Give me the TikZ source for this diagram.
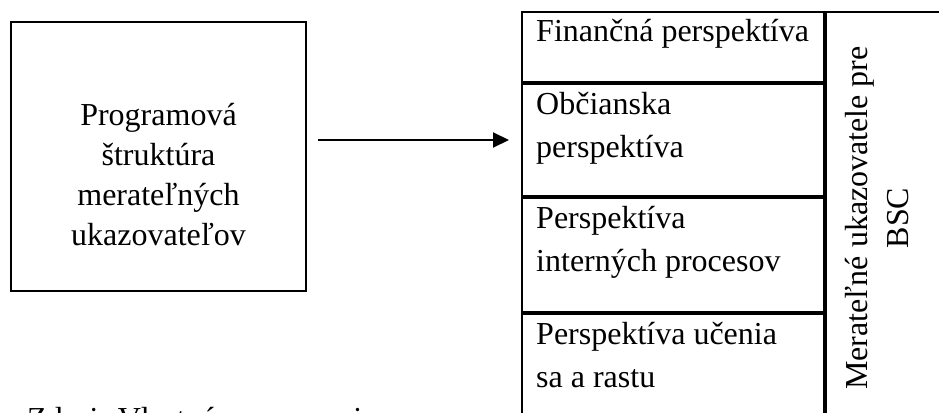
\documentclass[tikz,border=0pt]{standalone}
\usepackage{fontspec}
\setmainfont{Liberation Serif}
\usetikzlibrary{arrows.meta}

\begin{document}
\begin{tikzpicture}
[
	x=1pt, y=-1pt,
	every node/.style={font=\fontsize{32}{40}\selectfont},
	frame/.style={draw, line width=2pt, rectangle, inner sep=0pt},
	cell/.style={frame, anchor=north west, minimum width=302pt},
	celltext/.style={anchor=base west, align=left, inner sep=0pt, font=\fontsize{32}{43}\selectfont},
	arrow/.style={-{Triangle[length=16pt,width=15pt]}, line width=2pt}
]

	% visible part of the page
	\path[use as bounding box, clip] (0,0) rectangle (939,412);

	% left box (base = last line)
	\node[frame, minimum width=295pt, minimum height=269pt] at (158.5,156.5) (prog) {};
	\node[anchor=base, align=center, inner sep=0pt] at (158.5,245) (progtext) {Programová\\štruktúra\\merateľných\\ukazovateľov};

	% table of perspectives
	\node[cell, minimum height=70pt] at (521,11) (fin) {};
	\node[cell, minimum height=112pt] at (fin.south west) (obc) {};
	\node[cell, minimum height=114pt] at (obc.south west) (intp) {};
	\node[cell, minimum height=113pt] at (intp.south west) (ucen) {};
	\node[frame, anchor=north west, minimum width=127pt, minimum height=409pt] at (fin.north east) (bsc) {};

	\node[celltext] at ([xshift=15pt,yshift=-31pt]fin.north west) (fintext) {Finančná perspektíva};
	\node[celltext] at ([xshift=15pt,yshift=-74pt]obc.north west) (obctext) {Občianska\\perspektíva};
	\node[celltext] at ([xshift=15pt,yshift=-74pt]intp.north west) (intptext) {Perspektíva\\interných procesov};
	\node[celltext] at ([xshift=15pt,yshift=-74pt]ucen.north west) (ucentext) {Perspektíva učenia\\sa a rastu};

	\node[rotate=90, anchor=base, align=center, inner sep=0pt, font=\fontsize{32}{41}\selectfont] at (908,218) (bsctext) {Merateľné ukazovatele pre\\BSC};

	% arrow
	\coordinate (arry) at (0,140);
	\draw[arrow, shorten <=11pt, shorten >=12pt] (prog.east |- arry) -- (obc.west |- arry);

	% source line, cut by the page edge
	\node[anchor=base west, inner sep=0pt] at (27,429) (zdroj) {Zdroj: Vlastné spracovanie};

\end{tikzpicture}
\end{document}
